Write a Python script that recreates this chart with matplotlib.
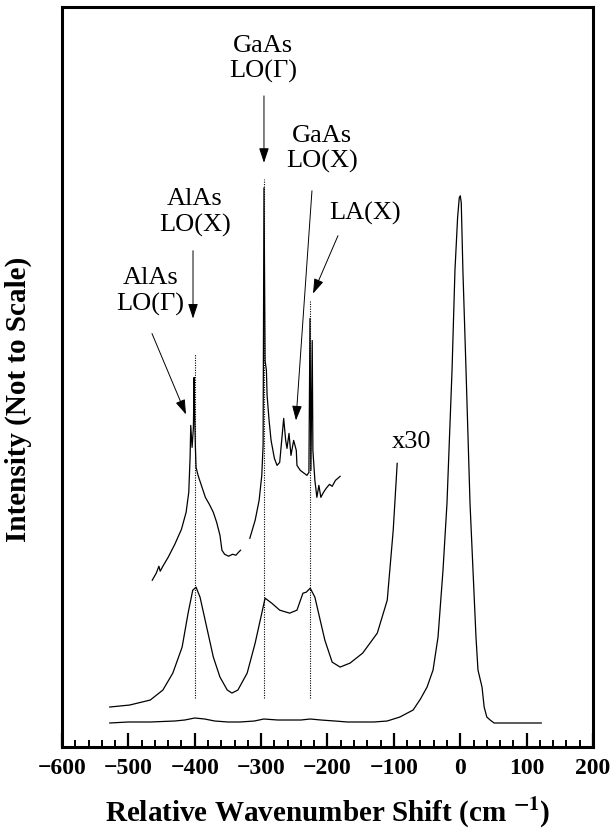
import matplotlib
matplotlib.use('Agg')
from matplotlib import pyplot as plt
from matplotlib.ticker import MultipleLocator

plt.rcParams['font.family'] = ['Liberation Serif', 'DejaVu Serif']
plt.rcParams['mathtext.fontset'] = 'stix'

# raw spectrum (laser line at 0)
raw_x = [-528, -500, -467, -430, -415, -400, -385, -370, -350, -332, -310, -296,
         -275, -256, -240, -226, -210, -189, -170, -151, -130, -110, -91, -71,
         -60, -50, -41, -33.5, -26, -20, -12.4, -8, -4, -1.5, 0, 1.5, 4, 8.7,
         14.7, 19.2, 23.7, 26.7, 32.8, 36, 40, 45, 51, 60, 90, 122]
raw_y = [24, 25, 25, 26, 27, 29, 28, 26, 25, 25, 26, 28,
         27, 27, 27, 28, 27, 26, 25, 25, 25, 26, 30, 37,
         48, 60, 77, 110, 177, 244, 377, 477, 530, 550, 552, 545, 477, 377,
         244, 177, 110, 77, 60, 40, 30, 27, 24, 24, 24, 24]

# x30 spectrum
x30_x = [-528, -498, -467, -448, -433, -419, -410, -403, -398, -392, -382, -372,
         -362, -351, -344, -335, -321, -309, -299, -294, -284, -272, -257, -246,
         -237, -232, -226, -219, -211, -204, -193, -181, -166, -147, -125, -110,
         -101, -95]
x30_y = [40, 42, 47, 57, 74, 100, 134, 157, 160, 150, 120, 90,
         70, 57, 54, 57, 74, 104, 134, 149, 144, 137, 134, 137,
         154, 155, 159, 150, 127, 107, 85, 80, 84, 94, 114, 147,
         217, 284]

# expanded spectrum, AlAs region
alas_x = [-464, -458, -454, -452, -448, -440, -430, -420, -413, -409, -407, -406,
          -404, -402, -401, -400, -399, -398, -395, -390, -384, -378, -372, -367,
          -362, -359, -355, -349, -343, -338, -334, -331]
alas_y = [167, 174, 181, 176, 181, 190, 203, 218, 235, 255, 290, 322,
          300, 320, 370, 330, 300, 280, 272, 262, 250, 243, 235, 225,
          212, 197, 193, 191, 193, 192, 195, 197]

# expanded spectrum, GaAs region
gaas_x = [-317, -309, -303, -299, -297, -295.7, -294, -292, -291, -288, -285, -280,
          -276, -272, -269, -266, -263, -261, -258, -255, -251, -247, -246, -241,
          -235, -231, -228, -226.4, -225, -223, -222, -219, -216, -213, -210, -206,
          -202, -197, -193, -188, -181]
gaas_y = [209, 227, 247, 272, 302, 560, 387, 377, 352, 327, 307, 289,
          282, 285, 307, 329, 307, 299, 314, 292, 307, 297, 282, 277,
          274, 272, 275, 429, 277, 407, 297, 267, 250, 262, 250, 255,
          259, 263, 261, 267, 271]

peak_pos = [-399.6, -295.7, -226.4]
peak_top = [394, 569, 447]
peak_bottom = 49

fig = plt.figure(figsize=(6.13, 8.36), dpi=100)
ax = fig.add_axes([0.1011, 0.1065, 0.8663, 0.8851])

lw = 0.9
ax.plot(raw_x, raw_y, color='black', lw=lw)
ax.plot(x30_x, x30_y, color='black', lw=lw)
ax.plot(alas_x, alas_y, color='black', lw=lw)
ax.plot(gaas_x, gaas_y, color='black', lw=lw)

ax.vlines(peak_pos, peak_bottom, peak_top, colors='black', lw=0.8,
          linestyles=(0, (1, 1.2)))

# labels and arrows
txt = dict(ha='center', va='center', fontsize=19, linespacing=1.2)
ax.text(-297, 689, 'GaAs\nLO(Γ)', **txt)
ax.text(-208, 599, 'GaAs\nLO(X)', **txt)
ax.text(-399.6, 535, 'AlAs\nLO(X)', **txt)
ax.text(-143.5, 534, 'LA(X)', **txt)
ax.text(-467, 456, 'AlAs\nLO(Γ)', **txt)
ax.text(-73, 305, 'x30', **txt)

arrow = dict(arrowstyle='-|>,head_length=0.9,head_width=0.3', color='black',
             lw=0.7, shrinkA=0, shrinkB=0)
arrows = [((-295.7, 652), (-295.7, 585)),
          ((-402.6, 497), (-402.6, 429)),
          ((-464.4, 414), (-413.2, 333)),
          ((-223.4, 557), (-247.5, 327)),
          ((-184.2, 512), (-221.8, 454))]
for tail, tip in arrows:
    ax.annotate('', xy=tip, xytext=tail, arrowprops=arrow)

ax.set_xlim(-600, 200)
ax.set_ylim(0, 741)
ax.xaxis.set_major_locator(MultipleLocator(100))
ax.xaxis.set_minor_locator(MultipleLocator(20))
ax.tick_params(axis='x', which='major', direction='in', length=10, width=1.6,
               labelsize=17, pad=8)
ax.tick_params(axis='x', which='minor', direction='in', length=5, width=1.4)
ax.set_yticks([])
for lab in ax.get_xticklabels():
    lab.set_fontweight('bold')
for sp in ax.spines.values():
    sp.set_linewidth(2.2)

ax.set_xlabel(r'Relative Wavenumber Shift (cm $^{\mathbf{-1}}$)', fontsize=21,
              fontweight='bold', labelpad=12)
ax.set_ylabel('Intensity (Not to Scale)', fontsize=21, fontweight='bold')
ax.yaxis.set_label_coords(-0.056, 0.47)

fig.savefig('out.png', dpi=100)
